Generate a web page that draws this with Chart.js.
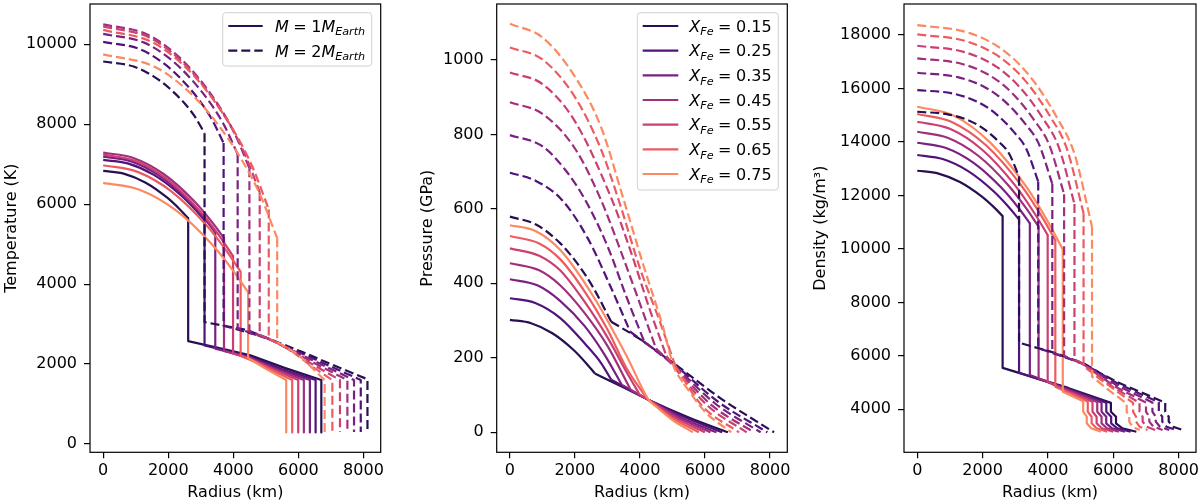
<!DOCTYPE html>
<html>
<head>
<meta charset="utf-8">
<script src="https://cdn.jsdelivr.net/npm/chart.js@4.4.0/dist/chart.umd.min.js"></script>
<style>
    html, body { margin: 0; padding: 0; background: #fff; }
    #wrap { position: relative; width: 1200px; height: 504px; overflow: hidden; }
    .panel { position: absolute; top: 0; width: 400px; height: 504px; }
</style>
</head>
<body>
<div id="wrap">
    <div class="panel" style="left:0"><canvas id="tempChart" width="400" height="504"></canvas></div>
    <div class="panel" style="left:400px"><canvas id="presChart" width="400" height="504"></canvas></div>
    <div class="panel" style="left:800px"><canvas id="densChart" width="400" height="504"></canvas></div>
</div>
<script>
// iron fractions and tick labels
const xfeValues = ['0.15', '0.25', '0.35', '0.45', '0.55', '0.65', '0.75'];
const massValues = ['1', '2'];
const xTicks = [0, 2000, 4000, 6000, 8000];
const tempTicks = [0, 2000, 4000, 6000, 8000, 10000];
const presTicks = [0, 200, 400, 600, 800, 1000];
const densTicks = [4000, 6000, 8000, 10000, 12000, 14000, 16000, 18000];

// core-mantle boundary radius (km) for each X_Fe, 1 and 2 M_Earth
const coreR1 = [2612, 3115, 3445, 3713, 3991, 4225, 4453];
const coreR2 = [3115, 3701, 4133, 4494, 4811, 5089, 5348];

// temperature (K) vs radius (km), M = 1 M_Earth (solid) and M = 2 M_Earth (dashed)
const tempR1 = [
    [0, 653, 1306, 1959, 2351, 2612, 2612, 3500, 4524, 5551, 6705, 6705],
    [0, 779, 1558, 2336, 2804, 3115, 3115, 4500, 5500, 6529, 6529],
    [0, 861, 1723, 2584, 3101, 3445, 3445, 4500, 5400, 6353, 6353],
    [0, 928, 1857, 2785, 3342, 3713, 3713, 4500, 5300, 6168, 6168],
    [0, 998, 1996, 2993, 3592, 3991, 3991, 4600, 5200, 5995, 5995],
    [0, 1056, 2113, 3169, 3803, 4225, 4225, 4700, 5200, 5810, 5810],
    [0, 1113, 2227, 3340, 4008, 4453, 4453, 5000, 5625, 5625]
];
const tempT1 = [
    [6834, 6760, 6538, 6168, 5875, 5650, 2575, 2410, 2220, 1910, 1600, 290],
    [7110, 7016, 6733, 6261, 5887, 5600, 2464, 2190, 1870, 1600, 290],
    [7190, 7071, 6715, 6121, 5651, 5290, 2387, 2170, 1860, 1600, 290],
    [7290, 7156, 6755, 6086, 5557, 5150, 2327, 2150, 1860, 1600, 290],
    [7240, 7081, 6605, 5811, 5183, 4700, 2264, 2100, 1870, 1600, 290],
    [6975, 6808, 6309, 5476, 4816, 4310, 2211, 2040, 1840, 1600, 290],
    [6533, 6362, 5850, 4996, 4319, 3800, 2150, 1880, 1600, 290]
];
const tempR2 = [
    [0, 935, 1558, 2025, 2492, 2804, 3115, 3115, 4422, 5348, 6066, 7000, 8123, 8123],
    [0, 1110, 1851, 2406, 2961, 3331, 3701, 3701, 5000, 6400, 7917, 7917],
    [0, 1240, 2067, 2686, 3306, 3720, 4133, 4133, 5200, 6400, 7710, 7710],
    [0, 1348, 2247, 2921, 3595, 4045, 4494, 4494, 5300, 6400, 7506, 7506],
    [0, 1443, 2406, 3127, 3849, 4330, 4811, 4811, 5500, 6400, 7278, 7278],
    [0, 1527, 2545, 3308, 4071, 4580, 5089, 5089, 5700, 6400, 7044, 7044],
    [0, 1604, 2674, 3476, 4278, 4813, 5348, 5348, 6000, 6806, 6806]
];
const tempT2 = [
    [9570, 9444, 9193, 8907, 8530, 8207, 7777, 3050, 2850, 2550, 2320, 2000, 1620, 300],
    [10060, 9883, 9529, 9124, 8593, 8137, 7530, 2960, 2660, 2160, 1600, 300],
    [10260, 10049, 9628, 9146, 8514, 7972, 7250, 2895, 2590, 2110, 1600, 300],
    [10500, 10248, 9744, 9168, 8412, 7764, 6900, 2830, 2550, 2060, 1600, 300],
    [10450, 10160, 9579, 8915, 8043, 7296, 6300, 2735, 2470, 2010, 1600, 300],
    [10360, 10046, 9417, 8699, 7756, 6948, 5870, 2640, 2390, 1950, 1600, 300],
    [9750, 9428, 8784, 8048, 7082, 6254, 5150, 2550, 2240, 1600, 300]
];

// pressure (GPa) vs radius (km)
const presR1 = [
    [0, 653, 1306, 1959, 2351, 2612, 3500, 4269, 5500, 6705],
    [0, 779, 1558, 2336, 2804, 3115, 4269, 5400, 6529],
    [0, 861, 1543, 2300, 2900, 3445, 4269, 5300, 6353],
    [0, 900, 1543, 2300, 3000, 3713, 4269, 5200, 6168],
    [0, 900, 1543, 2300, 3000, 3600, 3991, 4269, 5100, 5995],
    [0, 900, 1543, 2300, 3000, 3600, 4225, 4269, 5000, 5810],
    [0, 800, 1543, 2572, 3601, 4269, 4453, 5000, 5625]
];
const presP1 = [
    [302, 293, 266, 221, 185, 158, 120, 87, 40, 0],
    [360, 347, 306, 235, 186, 141, 87, 40, 0],
    [411, 394, 353, 285, 210, 127, 87, 38, 0],
    [454, 435, 395, 320, 232, 114, 87, 38, 0],
    [494, 474, 435, 350, 255, 160, 101, 87, 38, 0],
    [527, 507, 465, 378, 276, 170, 90, 87, 38, 0],
    [556, 540, 490, 364, 203, 87, 72, 33, 0]
];
const presR2 = [
    [0, 800, 1543, 2100, 2572, 3115, 4000, 5041, 6500, 8123],
    [0, 800, 1600, 2400, 3100, 3701, 5041, 6400, 7917],
    [0, 1000, 1700, 2315, 3000, 3600, 4133, 5041, 6300, 7710],
    [0, 1000, 2000, 2800, 3500, 4000, 4494, 5041, 6200, 7506],
    [0, 1000, 2000, 3140, 3700, 4300, 4811, 5100, 6100, 7278],
    [0, 1000, 2000, 2800, 3343, 4000, 4600, 5089, 5900, 7044],
    [0, 1000, 2000, 2800, 3500, 4100, 4700, 5041, 5348, 6000, 6806]
];
const presP2 = [
    [579, 558, 508, 450, 387, 297, 250, 185, 90, 0],
    [697, 675, 624, 520, 390, 270, 183, 82, 0],
    [798, 768, 705, 624, 500, 360, 243, 180, 78, 0],
    [886, 855, 762, 624, 465, 345, 225, 178, 73, 0],
    [966, 935, 835, 624, 490, 330, 205, 170, 70, 0],
    [1033, 1001, 900, 760, 624, 440, 300, 178, 72, 0],
    [1097, 1060, 955, 820, 624, 450, 285, 176, 130, 55, 0]
];

// density (kg/m^3) vs radius (km)
const densR1 = [
    [0, 653, 1306, 1959, 2351, 2612, 2612, 4615, 5926, 5926, 6082, 6082, 6277, 6705],
    [0, 779, 1558, 2336, 2804, 3115, 3115, 4615, 5785, 5785, 5934, 5934, 6120, 6529],
    [0, 861, 1723, 2584, 3101, 3445, 3445, 4615, 5640, 5640, 5783, 5783, 5961, 6353],
    [0, 928, 1857, 2785, 3342, 3713, 3713, 4615, 5508, 5508, 5640, 5640, 5805, 6168],
    [0, 998, 1996, 2993, 3592, 3991, 3991, 4615, 5363, 5363, 5489, 5489, 5647, 5995],
    [0, 1056, 2113, 3169, 3803, 4225, 4225, 4700, 5218, 5218, 5336, 5336, 5484, 5810],
    [0, 1113, 2227, 3340, 4008, 4453, 4453, 5077, 5077, 5187, 5187, 5324, 5625]
];
const densD1 = [
    [12923, 12817, 12500, 11970, 11551, 11229, 5550, 4800, 4240, 3910, 3723, 3476, 3290, 3162],
    [13510, 13359, 12908, 12154, 11558, 11100, 5369, 4770, 4250, 3910, 3723, 3476, 3290, 3162],
    [13970, 13782, 13217, 12275, 11529, 10956, 5283, 4740, 4260, 3910, 3723, 3476, 3290, 3162],
    [14381, 14159, 13493, 12383, 11504, 10829, 5159, 4700, 4270, 3910, 3723, 3476, 3290, 3162],
    [14756, 14491, 13697, 12373, 11324, 10519, 5032, 4670, 4280, 3910, 3723, 3476, 3290, 3162],
    [15043, 14749, 13865, 12392, 11226, 10331, 4845, 4580, 4290, 3910, 3723, 3476, 3290, 3162],
    [15317, 14984, 13984, 12317, 10997, 9984, 4658, 4300, 3910, 3723, 3476, 3290, 3162]
];
const densR2 = [
    [0, 935, 1558, 2025, 2492, 2804, 3115, 3115, 4100, 5100, 5600, 6150, 7588, 7588, 7695, 7695, 7829, 8123],
    [0, 1110, 1851, 2406, 2961, 3331, 3701, 3701, 5100, 6150, 7392, 7392, 7497, 7497, 7628, 7917],
    [0, 1240, 2067, 2686, 3306, 3720, 4133, 4133, 5100, 6100, 7196, 7196, 7299, 7299, 7427, 7710],
    [0, 1348, 2247, 2921, 3595, 4045, 4494, 4494, 5100, 6050, 7000, 7000, 7101, 7101, 7228, 7506],
    [0, 1443, 2406, 3127, 3849, 4330, 4811, 4811, 5300, 6000, 6802, 6802, 6897, 6897, 7016, 7278],
    [0, 1527, 2545, 3308, 4071, 4580, 5089, 5089, 5600, 6606, 6606, 6694, 6694, 6803, 7044],
    [0, 1604, 2674, 3476, 4278, 4813, 5348, 5348, 5900, 6409, 6409, 6488, 6488, 6588, 6806]
];
const densD2 = [
    [15130, 15033, 14814, 14498, 14012, 13575, 12700, 6490, 6150, 5720, 5350, 5000, 4250, 3910, 3723, 3540, 3350, 3225],
    [15941, 15804, 15496, 15052, 14367, 13752, 12520, 6290, 5700, 4950, 4260, 3910, 3723, 3540, 3350, 3225],
    [16588, 16422, 16047, 15507, 14675, 13927, 12430, 6130, 5690, 4900, 4255, 3910, 3723, 3540, 3350, 3225],
    [17126, 16923, 16465, 15804, 14786, 13871, 12040, 6000, 5670, 4850, 4250, 3910, 3723, 3540, 3350, 3225],
    [17598, 17361, 16828, 16059, 14875, 13809, 11678, 5880, 5500, 4820, 4245, 3910, 3723, 3540, 3350, 3225],
    [18024, 17756, 17154, 16284, 14945, 13740, 11330, 5619, 5120, 4240, 3910, 3723, 3540, 3350, 3225],
    [18372, 18070, 17391, 16411, 14902, 13545, 10829, 5219, 4680, 4220, 3910, 3723, 3540, 3350, 3225]
];

const magma = ['#270f51', '#51127c', '#792181', '#a0307e', '#cb3f72', '#ec5b60', '#fc8961'];
const dashed = [9, 4];
const FONT = '"DejaVu Sans", "Liberation Sans", sans-serif';

// each profile is drawn as a smooth core part and a mantle/crust part
function buildDatasets(p) {
    const sets = [];
    let k = 0;
    [[p.R1, p.V1, coreR1, []], [p.R2, p.V2, coreR2, dashed]].forEach(([R, V, C, dash]) => {
        R.forEach((radii, i) => {
            const pts = radii.map((r, j) => ({ x: r, y: V[i][j] }));
            const cut = radii.indexOf(C[i]);
            [[pts.slice(0, cut + 1), true], [pts.slice(cut), p.smoothOuter]].forEach(([part, smooth]) => {
                sets.push({
                    data: part,
                    borderColor: magma[i],
                    backgroundColor: magma[i],
                    borderWidth: 2.2,
                    borderDash: dash,
                    borderJoinStyle: 'round',
                    showLine: true,
                    pointRadius: 0,
                    fill: false,
                    cubicInterpolationMode: smooth ? 'monotone' : 'default',
                    tension: 0,
                    order: -(k++)
                });
            });
        });
    });
    return sets;
}

// mathtext-like label: italic symbols with subscripts
function drawMath(ctx, x, y, parts) {
    ctx.save();
    ctx.fillStyle = '#000';
    ctx.textBaseline = 'alphabetic';
    ctx.textAlign = 'left';
    parts.forEach(p => {
        if (p.gap) { x += p.gap; return; }
        const size = p.sub ? 11.2 : 16;
        ctx.font = (p.it ? 'italic ' : '') + size + 'px ' + FONT;
        ctx.fillText(p.t, x, p.sub ? y + 3.6 : y);
        x += ctx.measureText(p.t).width;
    });
    ctx.restore();
}

function roundBox(ctx, x, y, w, h, r) {
    ctx.beginPath();
    ctx.moveTo(x + r, y);
    ctx.lineTo(x + w - r, y);
    ctx.arcTo(x + w, y, x + w, y + r, r);
    ctx.lineTo(x + w, y + h - r);
    ctx.arcTo(x + w, y + h, x + w - r, y + h, r);
    ctx.lineTo(x + r, y + h);
    ctx.arcTo(x, y + h, x, y + h - r, r);
    ctx.lineTo(x, y + r);
    ctx.arcTo(x, y, x + r, y, r);
    ctx.closePath();
}

const framePlugin = {
    id: 'frame',
    afterDatasetsDraw(chart) {
        const { ctx, chartArea: a } = chart;
        ctx.save();
        ctx.strokeStyle = '#000';
        ctx.lineWidth = 1.2;
        ctx.strokeRect(a.left, a.top, a.right - a.left, a.bottom - a.top);
        ctx.restore();
    }
};

function legendPlugin(leg) {
    return {
        id: 'mathLegend',
        afterDraw(chart) {
            if (!leg) return;
            const ctx = chart.ctx;
            ctx.save();
            roundBox(ctx, leg.box[0], leg.box[1], leg.box[2], leg.box[3], 3);
            ctx.fillStyle = 'rgba(255,255,255,0.8)';
            ctx.fill();
            ctx.strokeStyle = '#d0d0d0';
            ctx.lineWidth = 1;
            ctx.stroke();
            leg.items.forEach((it, i) => {
                const y = leg.rowTop + i * leg.rowStep;
                ctx.beginPath();
                ctx.setLineDash(it.dash);
                ctx.strokeStyle = it.color;
                ctx.lineWidth = 2.2;
                ctx.moveTo(leg.line[0], y);
                ctx.lineTo(leg.line[1], y);
                ctx.stroke();
                ctx.setLineDash([]);
                drawMath(ctx, leg.textX, y + 5.8, it.parts);
            });
            ctx.restore();
        }
    };
}

function makePanel(p) {
    const tickFont = { family: FONT, size: 16 };
    new Chart(document.getElementById(p.id), {
        type: 'scatter',
        data: { datasets: buildDatasets(p) },
        options: {
            responsive: false,
            animation: false,
            layout: { padding: { top: 4, right: p.right, left: 0, bottom: 0 } },
            plugins: { legend: { display: false }, tooltip: { enabled: false } },
            scales: {
                x: {
                    type: 'linear',
                    min: -406,
                    max: 8530,
                    afterBuildTicks: s => { s.ticks = xTicks.map(v => ({ value: v })); },
                    afterFit: s => { s.height = 51.7; s.paddingLeft = 0; s.paddingRight = 0; },
                    ticks: { font: tickFont, color: '#000', padding: 3, maxRotation: 0, autoSkip: false, callback: v => String(v) },
                    grid: { drawOnChartArea: false, drawTicks: true, tickLength: 6, color: '#000', lineWidth: 1.2 },
                    border: { display: false },
                    title: { display: true, text: 'Radius (km)', font: tickFont, color: '#000', padding: { top: 0, bottom: 2 } }
                },
                y: {
                    type: 'linear',
                    min: p.yMin,
                    max: p.yMax,
                    afterBuildTicks: s => { s.ticks = p.ticks.map(v => ({ value: v })); },
                    afterFit: s => { s.width = p.yw; s.paddingTop = 0; s.paddingBottom = 0; },
                    ticks: { font: tickFont, color: '#000', padding: 7, autoSkip: false, callback: v => String(v) },
                    grid: { drawOnChartArea: false, drawTicks: true, tickLength: 6, color: '#000', lineWidth: 1.2 },
                    border: { display: false },
                    title: { display: true, text: p.title, font: tickFont, color: '#000', padding: { top: p.titlePad, bottom: 0 } }
                }
            }
        },
        plugins: [framePlugin, legendPlugin(p.legend)]
    });
}

const massLegend = {
    box: [222.7, 12.7, 149, 53.3],
    line: [228.3, 262.7],
    textX: 275,
    rowTop: 26,
    rowStep: 24.7,
    items: massValues.map((m, i) => ({
        color: magma[0],
        dash: i === 0 ? [] : dashed,
        parts: [{ t: 'M', it: true }, { gap: 4.5 }, { t: '=' }, { gap: 4.5 }, { t: m }, { t: 'M', it: true }, { t: 'Earth', it: true, sub: true }]
    }))
};

const xfeLegend = {
    box: [237.3, 12.7, 141, 177.3],
    line: [242.7, 278.3],
    textX: 289.3,
    rowTop: 26,
    rowStep: 24.67,
    items: xfeValues.map((v, i) => ({
        color: magma[i],
        dash: [],
        parts: [{ t: 'X', it: true }, { t: 'Fe', it: true, sub: true }, { gap: 4.5 }, { t: '=' }, { gap: 4.5 }, { t: v }]
    }))
};

makePanel({
    id: 'tempChart', R1: tempR1, V1: tempT1, R2: tempR2, V2: tempT2, smoothOuter: false,
    yMin: -208, yMax: 11009, ticks: tempTicks, title: 'Temperature (K)',
    yw: 90, right: 19.3, titlePad: 2.1, legend: massLegend
});
makePanel({
    id: 'presChart', R1: presR1, V1: presP1, R2: presR2, V2: presP2, smoothOuter: true,
    yMin: -53.7, yMax: 1150, ticks: presTicks, title: 'Pressure (GPa)',
    yw: 96.7, right: 12.7, titlePad: 18.7, legend: xfeLegend
});
makePanel({
    id: 'densChart', R1: densR1, V1: densD1, R2: densR2, V2: densD2, smoothOuter: false,
    yMin: 2392, yMax: 19159, ticks: densTicks, title: 'Density (kg/m³)',
    yw: 104, right: 4, titlePad: 11.1, legend: null
});
</script>
</body>
</html>
